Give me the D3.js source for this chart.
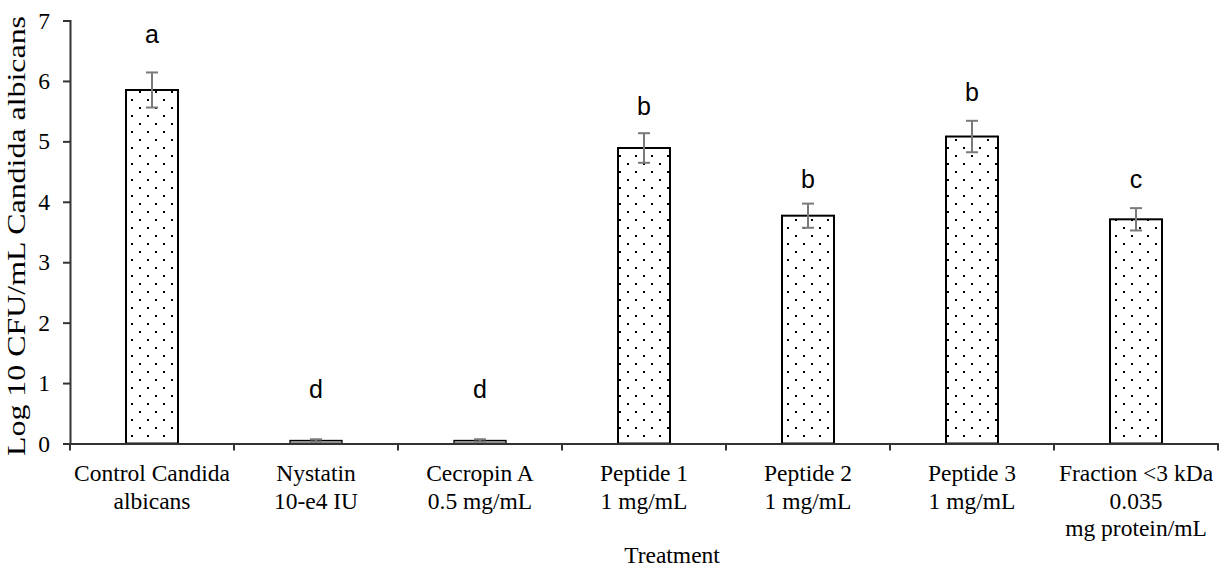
<!DOCTYPE html>
<html>
<head>
<meta charset="utf-8">
<script src="https://cdn.jsdelivr.net/npm/d3@7"></script>
<style>
  body { margin: 0; background: #fff; }
  svg { display: block; }
</style>
</head>
<body>
<div id="chart"></div>
<script>
var treatments = ["Control", "Nystatin", "Cecropin", "Peptide1", "Peptide2", "Peptide3", "Fraction"];
var tickLines = [
  ["Control Candida", "albicans"],
  ["Nystatin", "10-e4 IU"],
  ["Cecropin A", "0.5 mg/mL"],
  ["Peptide 1", "1 mg/mL"],
  ["Peptide 2", "1 mg/mL"],
  ["Peptide 3", "1 mg/mL"],
  ["Fraction <3 kDa", "0.035", "mg protein/mL"]
];
var logCfu = [5.85, 0.05, 0.05, 4.89, 3.77, 5.08, 3.71];
var errs = [0.29, 0.02, 0.02, 0.245, 0.2, 0.26, 0.185];
var groups = ["a", "d", "d", "b", "b", "b", "c"];
var groupY = [6.63, 0.75, 0.75, 5.43, 4.23, 5.66, 4.23];
var yTicks = [0, 1, 2, 3, 4, 5, 6, 7];

var svg_width = 1225;
var svg_height = 569;
var serif = "'Liberation Serif', 'Times New Roman', serif";

var svg = d3.select("#chart")
    .append("svg")
    .attr("width", svg_width)
    .attr("height", svg_height)
    .style("background-color", "#fff");

// dotted fill like the excel pattern
var pat = svg.append("defs").append("pattern")
    .attr("id", "dots")
    .attr("patternUnits", "userSpaceOnUse")
    .attr("width", 16)
    .attr("height", 16);
pat.append("rect").attr("width", 16).attr("height", 16).attr("fill", "#fff");
pat.append("rect").attr("x", 3).attr("y", 3).attr("width", 2).attr("height", 2).attr("fill", "#000");
pat.append("rect").attr("x", 11).attr("y", 11).attr("width", 2).attr("height", 2).attr("fill", "#000");

var x = d3.scaleBand()
    .domain(treatments)
    .range([70, 1218])
    .paddingInner(0.683)
    .paddingOuter(0.3415);

var y = d3.scaleLinear()
    .domain([0, 7])
    .range([443.5, 20.5]);

// bars
svg.selectAll(".bar")
    .data(treatments)
    .enter()
    .append("rect")
    .attr("class", "bar")
    .attr("x", d => x(d))
    .attr("width", x.bandwidth())
    .attr("y", (d, i) => y(logCfu[i]))
    .attr("height", (d, i) => y(0) - y(logCfu[i]))
    .attr("fill", (d, i) => logCfu[i] < 0.2 ? "#a8a8a8" : "url(#dots)")
    .attr("stroke", "#000")
    .attr("stroke-width", (d, i) => logCfu[i] < 0.2 ? 1.3 : 2);

// error bars
var eb = svg.append("g").attr("stroke", "#7a7a7a").attr("stroke-width", 2);
treatments.forEach(function (d, i) {
  var cx = x(d) + x.bandwidth() / 2;
  var hi = y(logCfu[i] + errs[i]);
  var lo = y(logCfu[i] - errs[i]);
  eb.append("line").attr("x1", cx).attr("x2", cx).attr("y1", hi).attr("y2", lo);
  eb.append("line").attr("x1", cx - 6).attr("x2", cx + 6).attr("y1", hi).attr("y2", hi);
  eb.append("line").attr("x1", cx - 6).attr("x2", cx + 6).attr("y1", lo).attr("y2", lo);
});

// significance letters
svg.selectAll(".grp")
    .data(treatments)
    .enter()
    .append("text")
    .attr("class", "grp")
    .attr("x", d => x(d) + x.bandwidth() / 2)
    .attr("y", (d, i) => y(groupY[i]))
    .attr("text-anchor", "middle")
    .style("font-family", "'Liberation Sans', Arial, sans-serif")
    .style("font-size", "25px")
    .attr("fill", "#000")
    .text((d, i) => groups[i]);

// y axis
var yAxis = svg.append("g")
    .attr("transform", "translate(70,0)")
    .call(d3.axisLeft(y).tickValues(yTicks).tickFormat(d3.format("d")).tickSize(7).tickPadding(13));
yAxis.select(".domain").attr("stroke", "#333").attr("stroke-width", 2);
yAxis.selectAll(".tick line").attr("stroke", "#333").attr("stroke-width", 2);
yAxis.selectAll(".tick text")
    .style("font-family", serif)
    .style("font-size", "23.5px")
    .attr("fill", "#000");

// x axis: line, ticks at the category edges, labels on several lines
var xAxis = svg.append("g")
    .attr("transform", "translate(0," + y(0) + ")")
    .call(d3.axisBottom(x).tickSize(0).tickFormat(""));
xAxis.select(".domain").attr("stroke", "#333").attr("stroke-width", 2);

var edges = treatments.map(d => x(d) - x.step() * x.paddingInner() / 2);
edges.push(x.range()[1]);
xAxis.selectAll(".edge")
    .data(edges)
    .enter()
    .append("line")
    .attr("class", "edge")
    .attr("x1", d => d).attr("x2", d => d)
    .attr("y1", 0).attr("y2", 7)
    .attr("stroke", "#333")
    .attr("stroke-width", 2);

var lbl = svg.append("g")
    .style("font-family", serif)
    .style("font-size", "23.5px")
    .attr("fill", "#000")
    .attr("text-anchor", "middle");
treatments.forEach(function (d, i) {
  var t = lbl.append("text")
      .attr("x", x(d) + x.bandwidth() / 2)
      .attr("y", y(0) + 37.5);
  tickLines[i].forEach(function (s, k) {
    t.append("tspan")
      .attr("x", x(d) + x.bandwidth() / 2)
      .attr("dy", k == 0 ? 0 : 27.5)
      .text(s);
  });
});

// axis titles
svg.append("text")
    .attr("x", 672)
    .attr("y", 563)
    .attr("text-anchor", "middle")
    .style("font-family", serif)
    .style("font-size", "23.5px")
    .text("Treatment");

svg.append("text")
    .attr("transform", "translate(25,236) rotate(-90)")
    .attr("text-anchor", "middle")
    .attr("textLength", 440)
    .attr("lengthAdjust", "spacingAndGlyphs")
    .style("font-family", serif)
    .style("font-size", "26px")
    .text("Log 10 CFU/mL Candida albicans");
</script>
</body>
</html>
